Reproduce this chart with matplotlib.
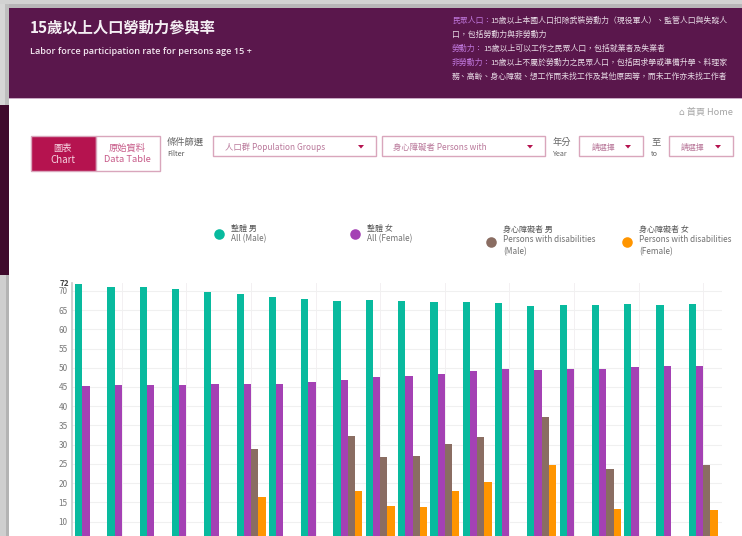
import matplotlib
matplotlib.use("Agg")
import matplotlib.pyplot as plt
from matplotlib.patches import Rectangle, Polygon
import numpy as np

W, H = 742, 536
plt.rcParams['font.family'] = ['Noto Sans CJK TC', 'DejaVu Sans']

group_index = list(range(20))
all_male = [71.8, 70.9, 70.9, 70.4, 69.7, 69.2, 68.3, 68.0, 67.5, 67.6,
            67.4, 67.2, 67.0, 66.9, 66.1, 66.2, 66.4, 66.6, 66.4, 66.6]
all_female = [45.2, 45.6, 45.4, 45.4, 45.8, 45.8, 45.9, 46.4, 46.9, 47.5,
              47.9, 48.5, 49.2, 49.6, 49.4, 49.8, 49.8, 50.1, 50.4, 50.5]
dis_male = [None, None, None, None, None, 29.0, None, None, 32.3, 26.8,
            27.0, 30.1, 31.9, None, 37.3, None, 23.6, None, None, 24.6]
dis_female = [None, None, None, None, None, 16.5, None, None, 18.0, 14.0,
              13.7, 17.9, 20.2, None, 24.6, None, 13.3, None, None, 13.1]
series = [all_male, all_female, dis_male, dis_female]
colors = ['#08BA9E', '#A441B4', '#8A6D62', '#FF9500']
ytick_values = [10, 15, 20, 25, 30, 35, 40, 45, 50, 55, 60, 65, 70]
legend_cn = ['整體 男', '整體 女', '身心障礙者 男', '身心障礙者 女']
legend_en = ['All (Male)', 'All (Female)', 'Persons with disabilities\n(Male)', 'Persons with disabilities\n(Female)']
notes = [('民眾人口：', '15歲以上本國人口扣除武裝勞動力（現役軍人）、監管人口與失蹤人', 21, 38),
         ('', '口，包括勞動力與非勞動力', 35, 0),
         ('勞動力：', '15歲以上可以工作之民眾人口，包括就業者及失業者', 49, 31),
         ('非勞動力：', '15歲以上不屬於勞動力之民眾人口，包括因求學或準備升學、料理家', 63, 38),
         ('', '務、高齡、身心障礙、想工作而未找工作及其他原因等，而未工作亦未找工作者', 77, 0)]

fig = plt.figure(figsize=(W / 100, H / 100), dpi=100, facecolor='white')
bg = fig.add_axes([0, 0, 1, 1], zorder=0)
bg.set_xlim(0, W); bg.set_ylim(H, 0); bg.axis('off')

def box(x, y, w, h, fc='none', ec='none', lw=1.0, z=1):
    bg.add_patch(Rectangle((x, y), w, h, fc=fc, ec=ec, lw=lw, zorder=z))

# surrounding page
box(0, 0, W, 4, fc='#D2D2D2', z=1)
box(0, 4, W, 4, fc='#B8B6B8', z=1)
box(0, 4, 5, 101, fc='#D6D6D6', z=1.1)
box(5, 4, 4, 101, fc='#BEBEBE', z=1.1)
box(0, 105, 9, 170, fc='#3F0A2C', z=1.1)
box(0, 275, 6, H - 275, fc='#CFCFCF', z=1.1)
box(6, 275, 3, H - 275, fc='#B4B4B4', z=1.1)
box(9, 8, W - 9, H - 8, fc='white', z=2)
box(9, 8, W - 9, 90, fc='#5A174C', z=3)
box(9, 97.5, W - 9, 1.2, fc='#C9A9C4', z=3)

# header
bg.text(30, 28, '15歲以上人口勞動力參與率', color='#F5EFF4', fontsize=11, fontweight='bold', va='center', zorder=4)
bg.text(30, 51.5, 'Labor force participation rate for persons age 15 +', color='#F2E6EF', fontsize=6.6,
        family=['Open Sans', 'DejaVu Sans'], fontweight='semibold', va='center', zorder=4)
for head, body, y, off in notes:
    if head:
        bg.text(452, y, head, color='#C078DD', fontsize=5.65, va='center', zorder=4)
    bg.text(452 + off, y, body, color='#E8DCE6', fontsize=5.65, va='center', zorder=4)
bg.text(733, 112, '⌂ 首頁 Home', color='#A5A5A5', fontsize=6.6, ha='right', va='center', zorder=4)

# controls
edge = '#D9A6BC'
box(30.5, 136, 65, 35, fc='#B5134F', ec=edge, z=3)
box(95.5, 136, 64, 35, fc='white', ec=edge, z=3)
bg.text(63, 148, '圖表', color='#F6D5E2', fontsize=6.7, ha='center', va='center', zorder=4)
bg.text(63, 160, 'Chart', color='#F6D5E2', fontsize=7.0, ha='center', va='center', zorder=4)
bg.text(127, 148, '原始資料', color='#C75A88', fontsize=6.7, ha='center', va='center', zorder=4)
bg.text(127, 160, 'Data Table', color='#C75A88', fontsize=6.7, ha='center', va='center', zorder=4)
bg.text(167, 142, '條件篩選', color='#666666', fontsize=6.7, va='center', zorder=4)
bg.text(167, 154, 'Filter', color='#555555', fontsize=5.2, va='center', zorder=4)
for x, w, label, lx, ax_, fs in [(212.5, 163, '人口群 Population Groups', 225, 361, 6.0),
                                 (381.5, 163, '身心障礙者 Persons with', 393, 530, 6.0),
                                 (579, 64, '請選擇', 592, 628, 5.7),
                                 (668.5, 64, '請選擇', 681, 718, 5.7)]:
    box(x, 136, w, 20, fc='white', ec=edge, z=3)
    bg.text(lx, 147, label, color='#B9789A', fontsize=fs, va='center', zorder=4)
    bg.add_patch(Polygon([(ax_ - 3, 145), (ax_ + 3, 145), (ax_, 148.5)], fc='#B5134F', ec='none', zorder=4))
bg.text(553, 142, '年分', color='#666666', fontsize=6.7, va='center', zorder=4)
bg.text(553, 154, 'Year', color='#666666', fontsize=5.2, va='center', zorder=4)
bg.text(651, 142, '至', color='#666666', fontsize=6.7, va='center', zorder=4)
bg.text(651, 154, 'to', color='#666666', fontsize=5.2, va='center', zorder=4)

# legend
for dx, tx, dy, cy, col, cn, en in zip([219, 355, 491, 627], [231, 367, 503, 639],
                                       [234, 234, 242, 242], [228, 228, 229, 229],
                                       colors, legend_cn, legend_en):
    bg.plot([dx], [dy], 'o', ms=7.6, color=col, mec='none', zorder=4)
    bg.text(tx, cy, cn, color='#555555', fontsize=5.8, va='center', zorder=4)
    bg.text(tx, cy + 6, en, color='#707070', fontsize=5.9, va='top', zorder=4, linespacing=1.4)

# chart: y = 0 lies below the cropped edge of the image
y0_px, y72_px = 560.0, 283.2
x_left, x_right = 72.0, 722.0
ax = fig.add_axes([x_left / W, (H - y0_px) / H, (x_right - x_left) / W, (y0_px - y72_px) / H],
                  zorder=5, facecolor='none')
band = 32.3
bar_w = 7.25
first_center = 89.5
ax.set_xlim((x_left - first_center) / band, (x_right - first_center) / band)
ax.set_ylim(0, 72)
x = np.array(group_index, dtype=float)
for i, (vals, col) in enumerate(zip(series, colors)):
    xs = [a + (i - 1.5) * bar_w / band for a, v in zip(x, vals) if v is not None]
    hs = [v for v in vals if v is not None]
    ax.bar(xs, hs, width=bar_w / band, color=col, linewidth=0, zorder=3)
for s in ['top', 'right', 'bottom']:
    ax.spines[s].set_visible(False)
ax.spines['left'].set_color('#C8C8C8')
ax.spines['left'].set_linewidth(1.2)
ax.set_yticks(ytick_values)
ax.tick_params(axis='y', length=0, pad=3, labelsize=5.9, labelcolor='#777777')
ax.set_xticks(x[1::2])
ax.tick_params(axis='x', length=0, labelbottom=False)
ax.grid(True, axis='y', color='#F0F0F0', linewidth=0.8, zorder=0)
ax.grid(True, axis='x', color='#F3F0F2', linewidth=0.7, zorder=0)
ax.set_axisbelow(True)
ax.text(-0.004, 72, '72', transform=ax.get_yaxis_transform(), ha='right', va='center',
        fontsize=5.9, fontweight='bold', color='#444444', clip_on=False)

fig.savefig('out.png', dpi=100, facecolor='white')
